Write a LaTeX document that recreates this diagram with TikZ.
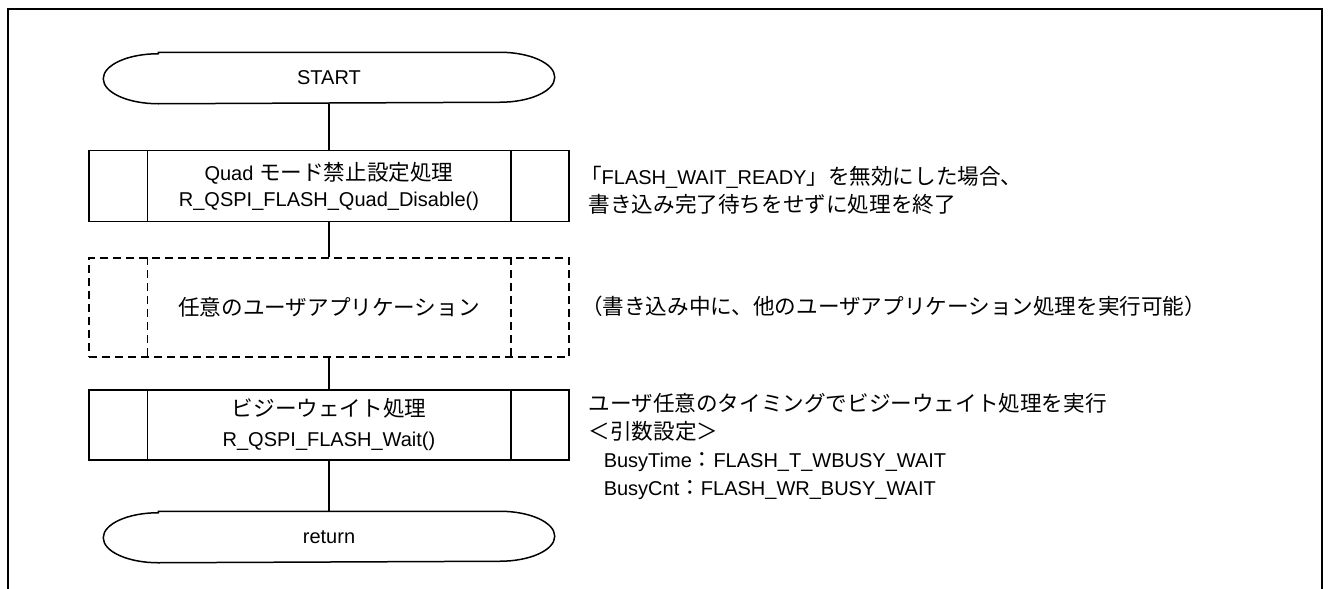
\documentclass[tikz,border=0pt]{standalone}
\usepackage{fontspec}
\setmainfont{Liberation Sans}
\newfontfamily\jp[Scale=1.08]{Noto Sans CJK JP}
\usetikzlibrary{positioning}

\tikzset{
  term/.style={minimum width=450pt, minimum height=50pt, inner sep=0pt},
  proc/.style={draw, minimum width=480pt, minimum height=71pt, inner sep=0pt, align=center},
  userproc/.style={proc, dash pattern=on 8pt off 5pt, minimum height=99pt},
  note/.style={anchor=west, align=left, inner sep=0pt},
}

\begin{document}
\begin{tikzpicture}[x=1pt, y=-1pt, line width=1.5pt, font=\fontsize{20}{28}\selectfont]
  \useasboundingbox (0,0) rectangle (1328,589);
  % frame
  \draw[line width=2pt] (7.5,589) -- (7.5,8.5) -- (1321.5,8.5) -- (1321.5,589);

  % flow
  \node[term] (start) at (329,78) {START};
  \node[proc] (quad) at (329,186) {Quad {\jp モード禁止設定処理}\\[-2pt]R\_QSPI\_FLASH\_Quad\_Disable()};
  \node[userproc] (app) at (329,307.5) {\jp 任意のユーザアプリケーション};
  \node[proc, minimum height=70pt] (wait) at (329,425) {{\jp ビジーウェイト処理}\\[2pt]R\_QSPI\_FLASH\_Wait()};
  \node[term] (ret) at (329,537) {return};

  \foreach \n in {start,ret}
    \draw ([xshift=55pt]\n.north west) -- ([xshift=-55pt]\n.north east)
      arc[start angle=90, end angle=-90, x radius=55pt, y radius=25pt]
      -- ([xshift=55pt]\n.south west)
      arc[start angle=270, end angle=90, x radius=55pt, y radius=25pt] -- cycle;
  \foreach \n in {quad,wait}{
    \draw ([xshift=59pt]\n.north west) -- ([xshift=59pt]\n.south west);
    \draw ([xshift=-59pt]\n.north east) -- ([xshift=-59pt]\n.south east);
  }
  \draw[dash pattern=on 8pt off 5pt] ([xshift=59pt]app.north west) -- ([xshift=59pt]app.south west);
  \draw[dash pattern=on 8pt off 5pt] ([xshift=-59pt]app.north east) -- ([xshift=-59pt]app.south east);

  \draw (start.south) -- (quad.north);
  \draw (quad.south) -- (app.north);
  \draw (app.south) -- (wait.north);
  \draw (wait.south) -- (ret.north);

  % notes
  \node[note] (n1) at (588,190) {{\jp\kern-0.4em 「}FLASH\_WAIT\_READY{\jp 」を無効にした場合、}\\{\jp 書き込み完了待ちをせずに処理を終了}};
  \node[note] (n2) at (588,306) {\jp\kern-0.35em （書き込み中に、他のユーザアプリケーション処理を実行可能）};
  \node[note] (n3) at (588,446) {{\jp ユーザ任意のタイミングでビジーウェイト処理を実行}\\{\jp ＜引数設定＞}\\
    \hspace*{15pt}BusyTime{\jp ：}FLASH\_T\_WBUSY\_WAIT\\
    \hspace*{15pt}BusyCnt{\jp ：}FLASH\_WR\_BUSY\_WAIT};
\end{tikzpicture}
\end{document}
